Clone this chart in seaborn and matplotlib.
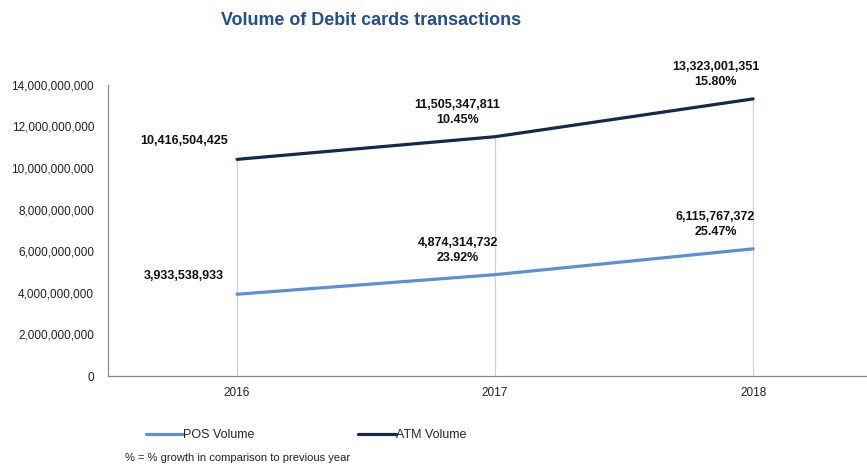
import matplotlib
matplotlib.use("Agg")
import matplotlib.pyplot as plt
import seaborn as sns
import pandas as pd

years = ["2016", "2017", "2018"]
pos_volume = [3933538933, 4874314732, 6115767372]
atm_volume = [10416504425, 11505347811, 13323001351]
pos_growth = [None, "23.92%", "25.47%"]
atm_growth = [None, "10.45%", "15.80%"]
series_names = ["POS Volume", "ATM Volume"]
series_colors = ["#5b8fd6", "#15294d"]
yticks = [0, 2e9, 4e9, 6e9, 8e9, 10e9, 12e9, 14e9]

df = pd.DataFrame({
    "year": years * 2,
    "x": list(range(len(years))) * 2,
    "volume": pos_volume + atm_volume,
    "series": [series_names[0]] * 3 + [series_names[1]] * 3,
})

sns.set_style("white")
plt.rcParams["font.family"] = ["Liberation Sans", "DejaVu Sans"]

fig = plt.figure(figsize=(8.67, 4.66), dpi=100)
ax = fig.add_axes([0.1246, 0.193, 0.875, 0.625])

# drop lines from the axis up to the top series
ax.vlines(range(len(years)), 0, atm_volume, color="#d0d0d0", lw=0.9, zorder=1)

sns.lineplot(data=df, x="x", y="volume", hue="series",
             palette=dict(zip(series_names, series_colors)),
             linewidth=2.3, ax=ax, zorder=3, legend=True)

ax.set_xlim(-0.5, 2.44)
ax.set_ylim(0, 14e9)
ax.set_xticks(range(len(years)))
ax.set_xticklabels(years, fontsize=8.5)
ax.set_yticks(yticks)
ax.set_yticklabels([f"{int(v):,}" for v in yticks], fontsize=8.5)
ax.set_xlabel("")
ax.set_ylabel("")
ax.tick_params(axis="both", length=0, pad=8, colors="#222222")
ax.tick_params(axis="y", pad=10)

for s in ["top", "right"]:
    ax.spines[s].set_visible(False)
ax.spines["left"].set_color("#888888")
ax.spines["bottom"].set_color("#888888")
ax.spines["left"].set_linewidth(0.9)
ax.spines["bottom"].set_linewidth(0.9)

# value labels
for vals, growth in [(pos_volume, pos_growth), (atm_volume, atm_growth)]:
    for i, (v, g) in enumerate(zip(vals, growth)):
        if g is None:
            ax.annotate(f"{v:,}", (i, v), xytext=(-38, 9), textcoords="offset points",
                        ha="center", va="bottom", fontsize=9, fontweight="bold",
                        color="#111111")
        else:
            ax.annotate(f"{v:,}\n{g}", (i, v), xytext=(-27, 8), textcoords="offset points",
                        ha="center", va="bottom", fontsize=9, fontweight="bold",
                        color="#111111", linespacing=1.3)

fig.text(0.428, 0.955, "Volume of Debit cards transactions", ha="center", va="center",
         fontsize=12.9, fontweight="bold", color="#1f4e91")

handles, labels = ax.get_legend_handles_labels()
ax.legend(handles, labels, loc="center left", bbox_to_anchor=(0.155, 0.066),
          bbox_transform=fig.transFigure, ncol=2, frameon=False, fontsize=9,
          handlelength=3.0, handletextpad=0.0, columnspacing=8.3)

fig.text(0.144, 0.018, "% = % growth in comparison to previous year", ha="left",
         va="center", fontsize=8, color="#222222")

fig.savefig("out.png", dpi=100)
